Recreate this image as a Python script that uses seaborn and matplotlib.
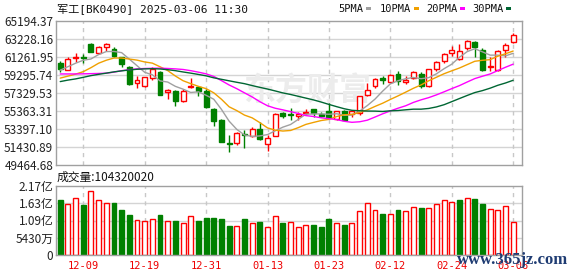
import numpy as np
import pandas as pd
import matplotlib
matplotlib.use("Agg")
import matplotlib.pyplot as plt
from matplotlib.patches import Rectangle
import seaborn as sns

# ---------------- data ----------------
dates = ["12-04", "12-05", "12-06", "12-09", "12-10", "12-11", "12-12", "12-13", "12-16", "12-17",
         "12-18", "12-19", "12-20", "12-23", "12-24", "12-25", "12-26", "12-27", "12-30", "12-31",
         "01-02", "01-03", "01-06", "01-07", "01-08", "01-09", "01-10", "01-13", "01-14", "01-15",
         "01-16", "01-17", "01-20", "01-21", "01-22", "01-23", "01-24", "01-27", "02-05", "02-06",
         "02-07", "02-10", "02-11", "02-12", "02-13", "02-14", "02-17", "02-18", "02-19", "02-20",
         "02-21", "02-24", "02-25", "02-26", "02-27", "02-28", "03-03", "03-04", "03-05", "03-06"]

open_ = [60560, 59877, 61147, 61288, 62731, 61646, 62406, 62189, 61212, 60171,
         58467, 58066, 58934, 59661, 57415, 57599, 56438, 58033, 58033, 57599,
         55538, 54344, 51817, 51817, 52880, 52640, 53368, 51708, 52640, 55136,
         54990, 54810, 55136, 55538, 55000, 55320, 54528, 55354, 54995, 55180,
         57057, 58066, 58934, 58575, 59412, 58520, 58977, 59430, 58066, 59960,
         60790, 61650, 61038, 62200, 62890, 62070, 60170, 59877, 62030, 62930]
high = [60854, 61212, 61690, 61581, 62840, 62482, 62840, 62300, 61288, 60250,
        59227, 59100, 60203, 59770, 57784, 57650, 57784, 58977, 58141, 57784,
        55700, 54450, 52793, 53100, 53259, 53660, 54130, 52700, 55136, 55245,
        55679, 55245, 55534, 55610, 55245, 56188, 55400, 55500, 55500, 56948,
        58400, 58950, 59227, 59420, 59700, 59150, 59700, 59630, 60000, 60854,
        61700, 62500, 62700, 63100, 63000, 62232, 61290, 61990, 62800, 63900]
low = [59585, 59840, 60746, 60605, 61755, 61580, 61863, 61250, 60203, 58250,
       57892, 57950, 58793, 57100, 56622, 55895, 56400, 57892, 56980, 55700,
       53693, 51950, 50840, 51600, 51275, 52520, 52170, 50980, 52640, 54560,
       54344, 54420, 54880, 54700, 54700, 54700, 54420, 54420, 54700, 54880,
       56980, 57849, 58325, 58450, 58200, 58320, 58860, 57850, 58000, 59770,
       60660, 61320, 60950, 62000, 61300, 59769, 59770, 59770, 61300, 62840]
close = [59954, 61038, 61250, 61147, 61830, 62373, 62666, 61321, 60496, 58304,
         58793, 59042, 59954, 57165, 57675, 56438, 57523, 58141, 57523, 55787,
         54268, 51990, 51708, 53009, 52770, 53443, 52283, 52424, 55070, 54777,
         54880, 55070, 55280, 55180, 54810, 54700, 55354, 54420, 55354, 56948,
         57708, 58868, 58793, 59303, 58684, 58790, 59570, 58100, 59900, 60760,
         61590, 62030, 61863, 62990, 62350, 59877, 60250, 61863, 62610, 63710]
volume_yi = [1.731, 1.596, 1.785, 1.574, 2.015, 1.721, 1.627, 1.648, 1.417, 1.259,
             1.102, 1.070, 1.133, 1.259, 1.070, 1.070, 1.007, 1.217, 1.070, 1.175,
             1.175, 1.133, 0.913, 0.913, 1.133, 1.007, 1.039, 0.871, 1.217, 1.007,
             1.028, 0.871, 0.944, 0.944, 0.881, 1.133, 1.017, 0.944, 1.017, 1.385,
             1.627, 1.417, 1.300, 1.300, 1.417, 1.385, 1.511, 1.479, 1.479, 1.605,
             1.731, 1.668, 1.731, 1.794, 1.763, 1.605, 1.448, 1.417, 1.542, 1.0432]

# moving-average values before each window is full
ma5_head = [59823, 60203, 60583, 60908]
ma10_head = [58955, 59172, 59389, 59660, 60094, 60583, 60908, 61150, 61150]
ma20_head = [59411, 59411, 59411, 59422, 59444, 59465, 59498, 59606, 59769, 59877,
             59964, 60008, 60030, 60040, 60008, 59964, 59899, 59769, 59606]
ma30_head = [58576, 58738, 58868, 59042, 59227, 59368, 59498, 59639, 59747, 59845,
             59921, 59964, 59986, 59953, 59877, 59769, 59628, 59498, 59357, 59205,
             58988, 58825, 58662, 58500, 58348, 58141, 57946, 57762, 57556]

title_text = "军工[BK0490] 2025-03-06 11:30"
vol_label = "成交量:104320020"
price_min, price_max = 49464.68, 65194.37
vol_ticks = [0, 0.543, 1.086, 1.629, 2.172]
vol_tick_labels = ["0", "5430万", "1.09亿", "1.63亿", "2.17亿"]
ma_names = ["5PMA", "10PMA", "20PMA", "30PMA"]
ma_colors = ["#a0a0a0", "#f0a000", "#ff00ff", "#006633"]

# ---------------- build ----------------
sns.set_style("white")
plt.rcParams["font.family"] = ["Noto Sans CJK SC", "DejaVu Sans"]

n = len(dates)
x = np.arange(n)
df = pd.DataFrame({"x": x, "open": open_, "high": high, "low": low,
                   "close": close, "vol": volume_yi})
heads = {5: ma5_head, 10: ma10_head, 20: ma20_head, 30: ma30_head}
for w, h in heads.items():
    m = df["close"].rolling(w).mean().to_numpy()
    m[:w - 1] = h
    df[f"ma{w}"] = m

W, H = 578, 276
fig = plt.figure(figsize=(W / 100, H / 100), dpi=100)
L, R = 56, 522
ax = fig.add_axes([L / W, 1 - 165 / H, (R - L) / W, 144 / H])
axv = fig.add_axes([L / W, 1 - 255 / H, (R - L) / W, 69 / H])

RED = "#ff0000"
GREEN = "#008000"
grid_c = "#d4d4d4"
spine_c = "#a0a0a0"

label_idx = list(range(3, n, 8))
for a in (ax, axv):
    a.set_xlim(-0.55, n + 0.15)
    for i in label_idx:
        a.axvline(i, color="#c8c8c8", lw=1, ls=(0, (3, 3)), zorder=0.5)
    for s in a.spines.values():
        s.set_color(spine_c)
        s.set_linewidth(1.0)
    a.tick_params(length=0)

# price grid
yt = np.linspace(price_min, price_max, 9)
ax.set_ylim(price_min, price_max)
ax.set_yticks(yt)
ax.set_yticklabels([f"{v:.2f}" for v in yt], fontsize=8.5, color="#222222")
for v in yt[1:-1]:
    ax.axhline(v, color=grid_c, lw=1, zorder=0.4)
ax.set_xticks([])
ax.tick_params(axis="y", pad=2)

# watermark
ax.text(0.54, 0.51, "东方财富", transform=ax.transAxes, ha="center", va="center",
        fontsize=23, color="#ececec", fontweight="bold", zorder=0.6, style="italic")

# candles
bw = 0.64
up = df["close"] >= df["open"]
for _, r in df.iterrows():
    xi = r["x"]
    if r["close"] >= r["open"]:
        top, bot = r["close"], r["open"]
        ax.vlines(xi, top, r["high"], color=RED, lw=1, zorder=2)
        ax.vlines(xi, r["low"], bot, color=RED, lw=1, zorder=2)
        ax.bar(xi, max(top - bot, 25), bottom=bot, width=bw, facecolor="white",
               edgecolor=RED, linewidth=1, zorder=2)
    else:
        ax.vlines(xi, r["low"], r["high"], color=GREEN, lw=1, zorder=2)
        ax.bar(xi, max(r["open"] - r["close"], 25), bottom=r["close"], width=bw,
               facecolor=GREEN, edgecolor=GREEN, linewidth=1, zorder=2)

# moving averages
for w, c in zip([5, 10, 20, 30], ma_colors):
    sns.lineplot(data=df, x="x", y=f"ma{w}", ax=ax, color=c, lw=1, zorder=3,
                 legend=False)
ax.set_xlabel("")
ax.set_ylabel("")

# volume
prev = df["close"].shift(1)
vol_up = (df["close"] >= prev).to_numpy()
vol_up[0] = close[0] >= open_[0]
axv.set_ylim(0, vol_ticks[-1])
axv.set_yticks(vol_ticks)
axv.set_yticklabels(vol_tick_labels, fontsize=8.5, color="#222222")
axv.tick_params(axis="y", pad=2)
for v in vol_ticks[1:-1]:
    axv.axhline(v, color=grid_c, lw=1, zorder=0.4)
axv.bar(df["x"][vol_up], df["vol"][vol_up], width=bw, facecolor="white",
        edgecolor=RED, linewidth=1, zorder=2)
axv.bar(df["x"][~vol_up], df["vol"][~vol_up], width=bw, facecolor=GREEN,
        edgecolor=GREEN, linewidth=1, zorder=2)
axv.set_xticks(label_idx)
axv.set_xticklabels([dates[i] for i in label_idx], color="#ee0000", fontsize=7.5,
                    family=["DejaVu Sans Mono"])
axv.tick_params(axis="x", pad=4.5)

# texts
fig.text(57 / W, 1 - 8.5 / H, title_text, ha="left", va="center", fontsize=8,
         family=["DejaVu Sans Mono", "Noto Sans CJK SC"], color="#111111")
fig.text(57 / W, 1 - 177 / H, vol_label, ha="left", va="center", fontsize=8.5,
         color="#111111")

leg_x = [338, 380, 426, 472]
for name, c, lx in zip(ma_names, ma_colors, leg_x):
    t = fig.text(lx / W, 1 - 8.5 / H, name, ha="left", va="center", fontsize=7.5,
                 family=["DejaVu Sans Mono"], color="#111111")
    fig.canvas.draw()
    bb = t.get_window_extent()
    fig.patches.append(Rectangle(((bb.x1 + 3) / W, (H - 10) / H), 5 / W, 3 / H,
                                 transform=fig.transFigure, facecolor=c,
                                 edgecolor="none"))

fig.text(513 / W, 1 - 260 / H, "www.365jz.com", ha="center", va="center",
         fontsize=12, family=["Liberation Serif"], fontweight="bold",
         color="#1f3c73", zorder=10)

fig.savefig("out.png", dpi=100)
